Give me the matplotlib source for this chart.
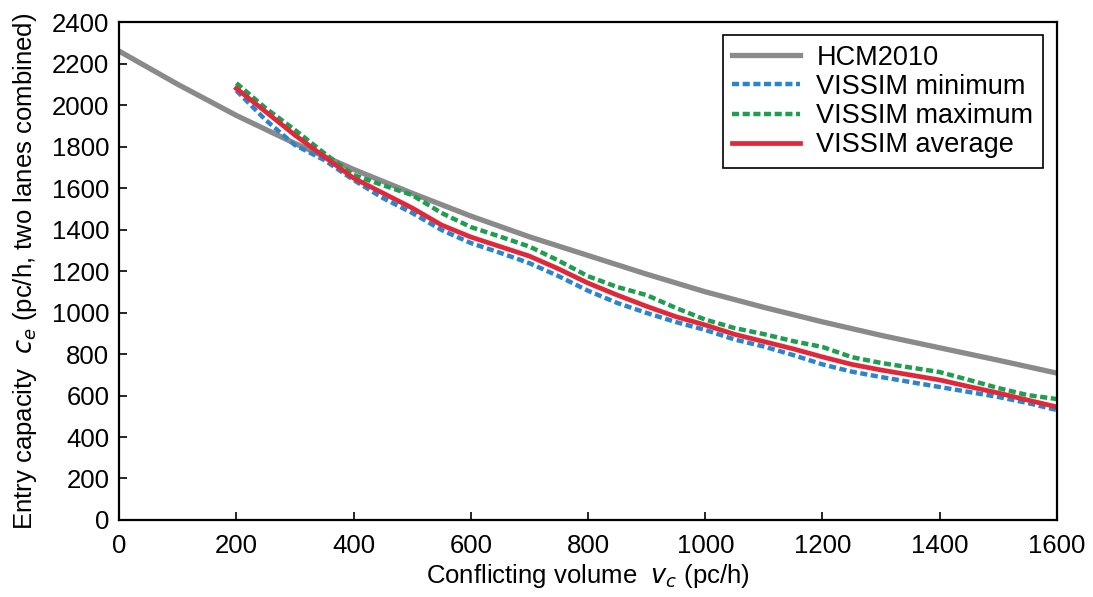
import numpy as np
import matplotlib
matplotlib.use('Agg')
import matplotlib.pyplot as plt

plt.rcParams['font.family'] = ['Liberation Sans', 'DejaVu Sans']

# HCM2010 curve
hcm_x = [0, 100, 200, 300, 400, 500, 600, 700, 800, 900, 1000, 1100, 1200, 1300, 1400, 1500, 1600]
hcm_y = [2260, 2100, 1950, 1815, 1690, 1575, 1465, 1365, 1275, 1185, 1100, 1025, 955, 890, 830, 770, 708]

# VISSIM curves
sim_x = [200, 250, 300, 350, 400, 450, 500, 550, 600, 650, 700, 750, 800, 850, 900, 950,
         1000, 1050, 1100, 1150, 1200, 1250, 1300, 1350, 1400, 1450, 1500, 1550, 1600]
sim_min = [2070, 1928, 1807, 1735, 1639, 1552, 1480, 1398, 1335, 1288, 1238, 1175, 1105, 1046, 998, 954,
           916, 870, 836, 795, 750, 715, 689, 665, 641, 617, 593, 564, 530]
sim_max = [2106, 1985, 1880, 1768, 1663, 1614, 1566, 1480, 1412, 1366, 1318, 1250, 1175, 1123, 1084, 1022,
           966, 925, 896, 862, 834, 785, 757, 735, 713, 675, 636, 602, 583]
sim_avg = [2080, 1968, 1855, 1751, 1648, 1576, 1504, 1422, 1364, 1318, 1272, 1210, 1142, 1084, 1030, 980,
           940, 895, 860, 825, 786, 750, 723, 699, 675, 643, 612, 578, 545]

fs = 18.5

fig = plt.figure(figsize=(10.93, 5.97), dpi=100)
ax = fig.add_axes([0.109, 0.129, 0.858, 0.834])

ax.plot(hcm_x, hcm_y, color='#8a8a8a', lw=3.8, label='HCM2010')
ax.plot(sim_x, sim_min, color='#2a86cc', lw=3.2, ls=(0, (1.6, 0.8)), label='VISSIM minimum')
ax.plot(sim_x, sim_max, color='#1e9e4e', lw=3.2, ls=(0, (1.6, 0.8)), label='VISSIM maximum')
ax.plot(sim_x, sim_avg, color='#e0283a', lw=3.4, label='VISSIM average')

ax.set_xlim(0, 1600)
ax.set_ylim(0, 2400)
ax.set_xticks(np.arange(0, 1601, 200))
ax.set_yticks(np.arange(0, 2401, 200))
ax.tick_params(direction='in', labelsize=fs, length=6, width=1.2, top=False, right=False)
ax.tick_params(axis='x', pad=10)
ax.tick_params(axis='y', pad=7)
for s in ax.spines.values():
    s.set_linewidth(1.6)

ax.set_xlabel('Conflicting volume  $v_c$ (pc/h)', fontsize=fs, labelpad=3)
ax.set_ylabel('Entry capacity  $c_e$ (pc/h, two lanes combined)', fontsize=fs, labelpad=9)

leg = ax.legend(loc='upper right', fontsize=19.5, fancybox=False, framealpha=1,
                edgecolor='black', handlelength=2.5, handletextpad=0.6,
                borderpad=0.35, labelspacing=0.12, borderaxespad=0,
                bbox_to_anchor=(0.985, 0.974))
leg.get_frame().set_linewidth(1.2)

fig.savefig('out.png', dpi=100)
